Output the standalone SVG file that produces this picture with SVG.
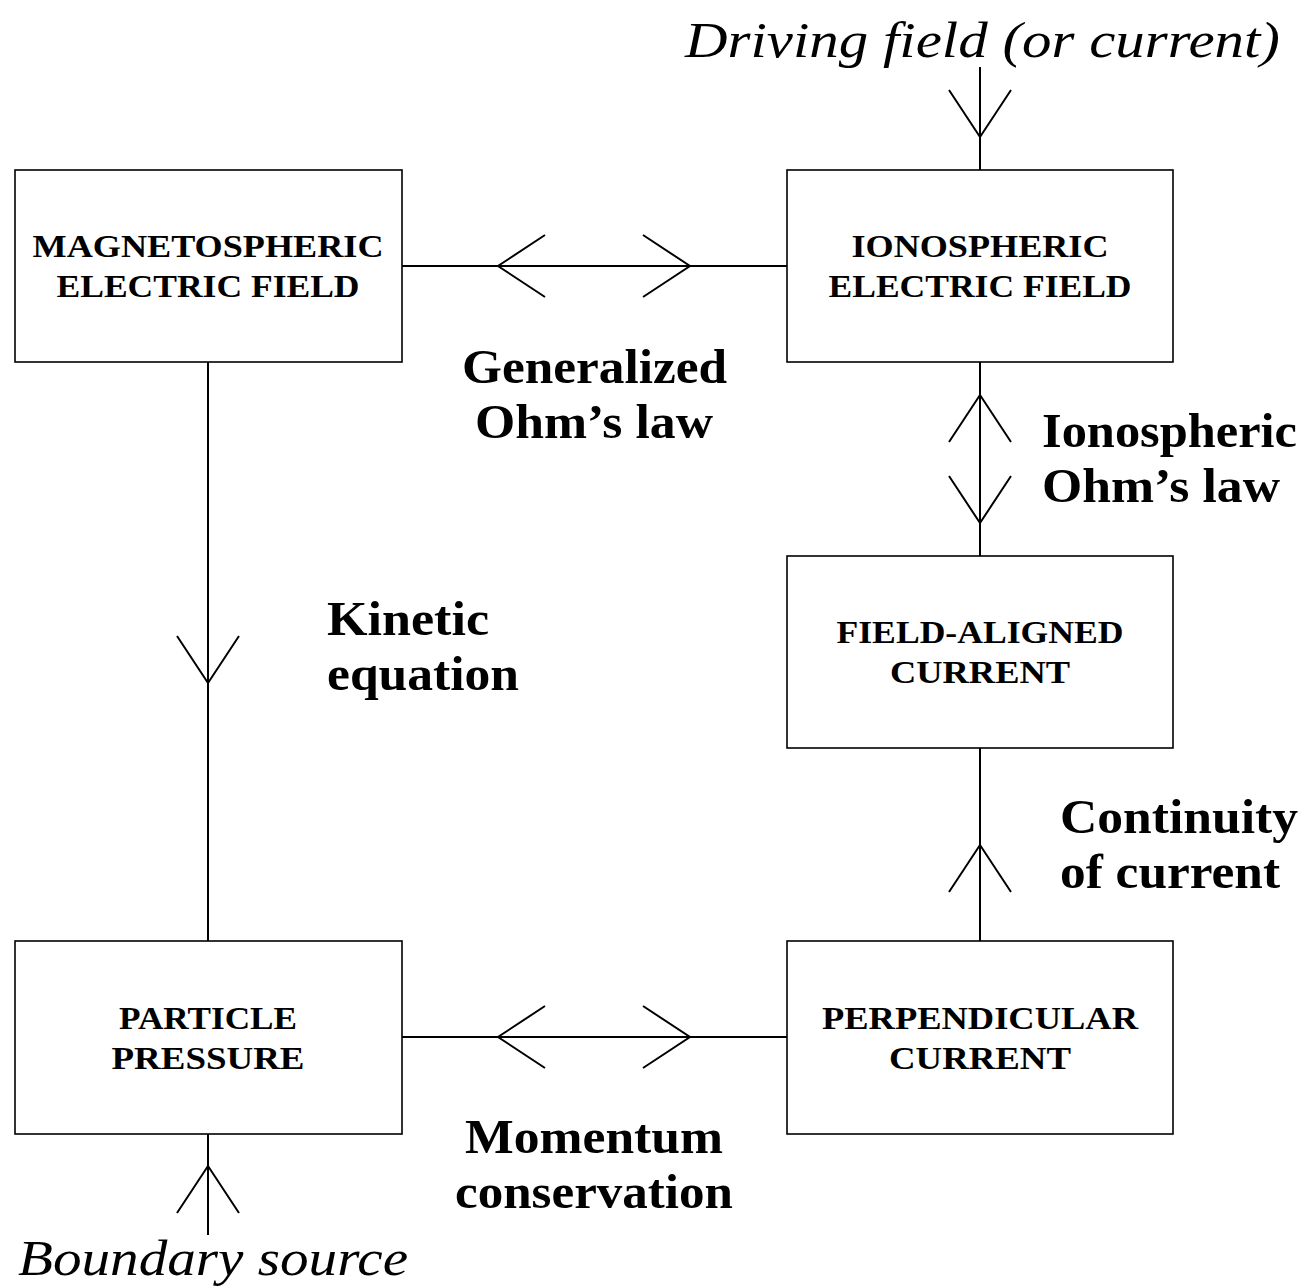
<svg xmlns="http://www.w3.org/2000/svg" xmlns:xlink="http://www.w3.org/1999/xlink" width="1305" height="1288" viewBox="0 0 1305 1288">
<style>
.box{fill:#fff;stroke:#000;stroke-width:1.6}
.bt{font-family:"Liberation Serif","DejaVu Serif",serif;font-weight:bold;font-size:32px;text-anchor:middle;fill:#000}
.lb{font-family:"Liberation Serif","DejaVu Serif",serif;font-weight:bold;font-size:48px;fill:#000}
.it{font-family:"Liberation Serif","DejaVu Serif",serif;font-style:italic;font-size:50px;fill:#000}
.ln{stroke:#000;stroke-width:2;fill:none}
</style>
<defs>
<path id="hd" d="M -47 -31 L 0 0 L -47 31" class="ln"/>
</defs>
<rect width="1305" height="1288" fill="#fff"/>
<g id="connectors">
<line class="ln" x1="402" y1="266" x2="787" y2="266"/>
<use xlink:href="#hd" transform="translate(690,266)"/>
<use xlink:href="#hd" transform="translate(498,266) rotate(180)"/>
<line class="ln" x1="402" y1="1037" x2="787" y2="1037"/>
<use xlink:href="#hd" transform="translate(690,1037)"/>
<use xlink:href="#hd" transform="translate(498,1037) rotate(180)"/>
<line class="ln" x1="980" y1="67" x2="980" y2="170"/>
<use xlink:href="#hd" transform="translate(980,137) rotate(90)"/>
<line class="ln" x1="980" y1="362" x2="980" y2="556"/>
<use xlink:href="#hd" transform="translate(980,395) rotate(-90)"/>
<use xlink:href="#hd" transform="translate(980,523) rotate(90)"/>
<line class="ln" x1="208" y1="362" x2="208" y2="941"/>
<use xlink:href="#hd" transform="translate(208,683) rotate(90)"/>
<line class="ln" x1="980" y1="748" x2="980" y2="941"/>
<use xlink:href="#hd" transform="translate(980,845) rotate(-90)"/>
<line class="ln" x1="208" y1="1134" x2="208" y2="1235"/>
<use xlink:href="#hd" transform="translate(208,1166) rotate(-90)"/>
</g>
<g id="mag">
<rect class="box" x="15" y="170" width="387" height="192"/>
<text class="bt" x="208" y="257" textLength="351" lengthAdjust="spacingAndGlyphs">MAGNETOSPHERIC</text>
<text class="bt" x="208" y="297" textLength="303" lengthAdjust="spacingAndGlyphs">ELECTRIC FIELD</text>
</g>
<g id="ion">
<rect class="box" x="787" y="170" width="386" height="192"/>
<text class="bt" x="980" y="257" textLength="257" lengthAdjust="spacingAndGlyphs">IONOSPHERIC</text>
<text class="bt" x="980" y="297" textLength="303" lengthAdjust="spacingAndGlyphs">ELECTRIC FIELD</text>
</g>
<g id="fac">
<rect class="box" x="787" y="556" width="386" height="192"/>
<text class="bt" x="980" y="643" textLength="287" lengthAdjust="spacingAndGlyphs">FIELD-ALIGNED</text>
<text class="bt" x="980" y="683" textLength="180" lengthAdjust="spacingAndGlyphs">CURRENT</text>
</g>
<g id="pp">
<rect class="box" x="15" y="941" width="387" height="193"/>
<text class="bt" x="208" y="1029" textLength="178" lengthAdjust="spacingAndGlyphs">PARTICLE</text>
<text class="bt" x="208" y="1069" textLength="193" lengthAdjust="spacingAndGlyphs">PRESSURE</text>
</g>
<g id="perp">
<rect class="box" x="787" y="941" width="386" height="193"/>
<text class="bt" x="980" y="1029" textLength="316" lengthAdjust="spacingAndGlyphs">PERPENDICULAR</text>
<text class="bt" x="980" y="1069" textLength="182" lengthAdjust="spacingAndGlyphs">CURRENT</text>
</g>
<g id="labels">
<text class="lb" x="462" y="383" textLength="265" lengthAdjust="spacingAndGlyphs">Generalized</text>
<text class="lb" x="475" y="438" textLength="238" lengthAdjust="spacingAndGlyphs">Ohm’s law</text>
<text class="lb" x="1042" y="447" textLength="255" lengthAdjust="spacingAndGlyphs">Ionospheric</text>
<text class="lb" x="1042" y="502" textLength="238" lengthAdjust="spacingAndGlyphs">Ohm’s law</text>
<text class="lb" x="327" y="635" textLength="162" lengthAdjust="spacingAndGlyphs">Kinetic</text>
<text class="lb" x="327" y="690" textLength="192" lengthAdjust="spacingAndGlyphs">equation</text>
<text class="lb" x="1060" y="833" textLength="238" lengthAdjust="spacingAndGlyphs">Continuity</text>
<text class="lb" x="1060" y="888" textLength="220" lengthAdjust="spacingAndGlyphs">of current</text>
<text class="lb" x="465" y="1153" textLength="258" lengthAdjust="spacingAndGlyphs">Momentum</text>
<text class="lb" x="455" y="1208" textLength="278" lengthAdjust="spacingAndGlyphs">conservation</text>
<text class="it" x="685" y="57" textLength="595" lengthAdjust="spacingAndGlyphs">Driving field (or current)</text>
<text class="it" x="18" y="1275" textLength="390" lengthAdjust="spacingAndGlyphs">Boundary source</text>
</g>
</svg>
